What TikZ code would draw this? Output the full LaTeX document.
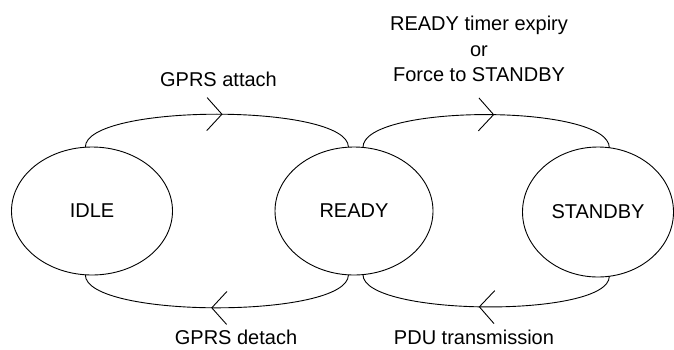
\documentclass[tikz,border=0pt]{standalone}
\usepackage{fontspec}
\setmainfont{Liberation Sans}
\usetikzlibrary{shapes.geometric,arrows.meta,decorations.markings}
\begin{document}
\begin{tikzpicture}[x=1pt,y=-1pt,line width=0.9pt,
  state/.style={draw,ellipse,inner sep=0pt,outer sep=0pt,font=\fontsize{20}{24}\selectfont},
  lbl/.style={inner sep=0pt,align=center,font=\fontsize{20}{25.5}\selectfont},
  trans/.style={postaction={decorate},decoration={markings,
     mark=at position #1 with {\arrow{Straight Barb[length=15pt,width=33pt]}}}}]
\useasboundingbox (0,0) rectangle (674,349);
\node[state,minimum width=161pt,minimum height=128pt] (idle) at (92,211) {IDLE};
\node[state,minimum width=158pt,minimum height=128pt] (ready) at (354,211) {READY};
\node[state,minimum width=151pt,minimum height=130pt] (standby) at (598,212) {STANDBY};
\draw[trans=0.52] (idle.96) .. controls +(0,-44) and +(0,-44) .. (ready.95);
\draw[trans=0.52] (ready.265) .. controls +(0,44) and +(0,44) .. (idle.264);
\draw[trans=0.53] (ready.82) .. controls +(0,-44) and +(0,-44) .. (standby.80);
\draw[trans=0.527] (standby.280) .. controls +(0,42) and +(0,42) .. (ready.278);
\node[lbl] (l1) at (218.5,79) {GPRS attach};
\node[lbl] (l2) at (236,337) {GPRS detach};
\node[lbl] (l3) at (479,49) {READY timer expiry\\or\\Force to STANDBY};
\node[lbl] (l4) at (474,337) {PDU transmission};
\end{tikzpicture}
\end{document}
